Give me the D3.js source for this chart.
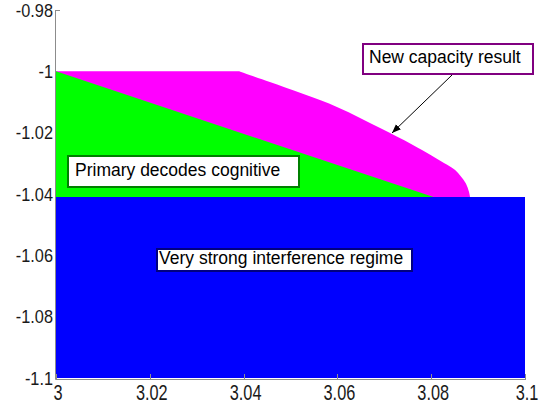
<!DOCTYPE html>
<html>
<head>
<meta charset="utf-8">
<script src="https://cdn.jsdelivr.net/npm/d3@7"></script>
<style>
  html, body { margin: 0; padding: 0; background: #fff; }
  svg { display: block; font-family: "Liberation Sans", Arial, sans-serif; }
</style>
</head>
<body>
<svg id="chart" width="541" height="413"></svg>
<script>
// ---- Data ----
const xTicks = [3, 3.02, 3.04, 3.06, 3.08, 3.1];
const xTickLabels = ["3", "3.02", "3.04", "3.06", "3.08", "3.1"];
const yTicks = [-0.98, -1, -1.02, -1.04, -1.06, -1.08, -1.1];
const yTickLabels = ["-0.98", "-1", "-1.02", "-1.04", "-1.06", "-1.08", "-1.1"];

// New capacity result region boundary (magenta)
const capacityX = [3.039, 3.0456, 3.0599, 3.0691, 3.0761, 3.0834, 3.0851, 3.0863, 3.0874, 3.0880, 3.0883];
const capacityY = [-1, -1.0035, -1.0116, -1.0185, -1.0240, -1.0305, -1.0322, -1.0342, -1.0366, -1.0390, -1.041];

// Primary decodes cognitive region (green)
const primaryX = [3, 3.0805, 3];
const primaryY = [-1, -1.041, -1.041];

// Very strong interference regime (blue)
const strongX = [3, 3.1, 3.1, 3];
const strongY = [-1.041, -1.041, -1.1, -1.1];

// ---- Layout ----
const svg = d3.select("#chart");
const x = d3.scaleLinear().domain([3, 3.1]).range([56, 525]);
const y = d3.scaleLinear().domain([-0.98, -1.1]).range([10, 378]);

const line = d3.line().x(d => x(d[0])).y(d => y(d[1]));
const zip = (xs, ys) => xs.map((v, i) => [v, ys[i]]);

// magenta: smooth boundary, closed back to the axis
const curvePts = zip(capacityX, capacityY);
const curvePath = d3.line().x(d => x(d[0])).y(d => y(d[1])).curve(d3.curveCatmullRom.alpha(0.5))(curvePts);
const last = curvePts[curvePts.length - 1];
const magPath = `M${x(3)},${y(-1)}L` + curvePath.slice(1) +
  `L${x(3)},${y(last[1])}Z`;
svg.append("path").attr("d", magPath).attr("fill", "#ff00ff");
svg.append("path").attr("d", line(zip(primaryX, primaryY)) + "Z").attr("fill", "#00ff00");
svg.append("path").attr("d", line(zip(strongX, strongY)) + "Z").attr("fill", "#0000ff");

// axes
const axisColor = "#8c8c8c";
svg.append("line").attr("x1", 55.5).attr("x2", x(3.1) + 1).attr("y1", 379.5).attr("y2", 379.5)
  .attr("stroke", axisColor).attr("stroke-width", 1);
svg.append("line").attr("x1", 55.5).attr("x2", 55.5).attr("y1", y(-0.98)).attr("y2", 379.5)
  .attr("stroke", axisColor).attr("stroke-width", 1);

// x tick marks (inward) and labels
svg.append("g").selectAll("line").data(xTicks).join("line")
  .attr("x1", d => Math.round(x(d)) + 0.5).attr("x2", d => Math.round(x(d)) + 0.5)
  .attr("y1", 379).attr("y2", 374)
  .attr("stroke", axisColor);
svg.append("g").selectAll("text").data(xTicks).join("text")
  .attr("transform", d => `translate(${x(d) + 2},400) scale(1,1.3)`)
  .attr("text-anchor", "middle")
  .attr("font-size", 16.3).attr("fill", "#1a1a1a")
  .text((d, i) => xTickLabels[i]);

// y tick marks (inward) and labels
svg.append("g").selectAll("line").data(yTicks.filter(d => d > -1)).join("line")
  .attr("x1", 55.5).attr("x2", 60)
  .attr("y1", d => Math.round(y(d)) + 0.5).attr("y2", d => Math.round(y(d)) + 0.5)
  .attr("stroke", axisColor);
svg.append("g").selectAll("text").data(yTicks).join("text")
  .attr("transform", d => `translate(53,${y(d) + 6.5}) scale(1,1.1)`)
  .attr("text-anchor", "end")
  .attr("font-size", 16.3).attr("fill", "#1a1a1a")
  .text((d, i) => yTickLabels[i]);

// annotations
const annotations = [
  { text: "Primary decodes cognitive", tx: 75, ty: 176, box: [67, 155, 300, 188], stroke: "#008000" },
  { text: "Very strong interference regime", tx: 159, ty: 264, box: [156, 248, 413, 272], stroke: "#000080" },
  { text: "New capacity result", tx: 369, ty: 63, box: [362, 43, 534, 75], stroke: "#800080" }
];
const ag = svg.append("g");
annotations.forEach(a => {
  ag.append("rect").attr("x", a.box[0] + 1).attr("y", a.box[1] + 1)
    .attr("width", a.box[2] - a.box[0] - 2).attr("height", a.box[3] - a.box[1] - 2)
    .attr("fill", "#fff").attr("stroke", a.stroke).attr("stroke-width", 2);
  ag.append("text").attr("x", a.tx).attr("y", a.ty)
    .attr("font-size", 17.5).attr("fill", "#000").text(a.text);
});

// arrow
svg.append("defs").append("marker")
  .attr("id", "arrowhead").attr("viewBox", "0 0 10 10")
  .attr("refX", 10).attr("refY", 5)
  .attr("markerWidth", 9).attr("markerHeight", 9)
  .attr("markerUnits", "userSpaceOnUse")
  .attr("orient", "auto")
  .append("path").attr("d", "M0,1 L10,5 L0,9 Z").attr("fill", "#000");
svg.append("line").attr("x1", 452).attr("y1", 75).attr("x2", 392).attr("y2", 133)
  .attr("stroke", "#000").attr("stroke-width", 1).attr("marker-end", "url(#arrowhead)");
</script>
</body>
</html>
